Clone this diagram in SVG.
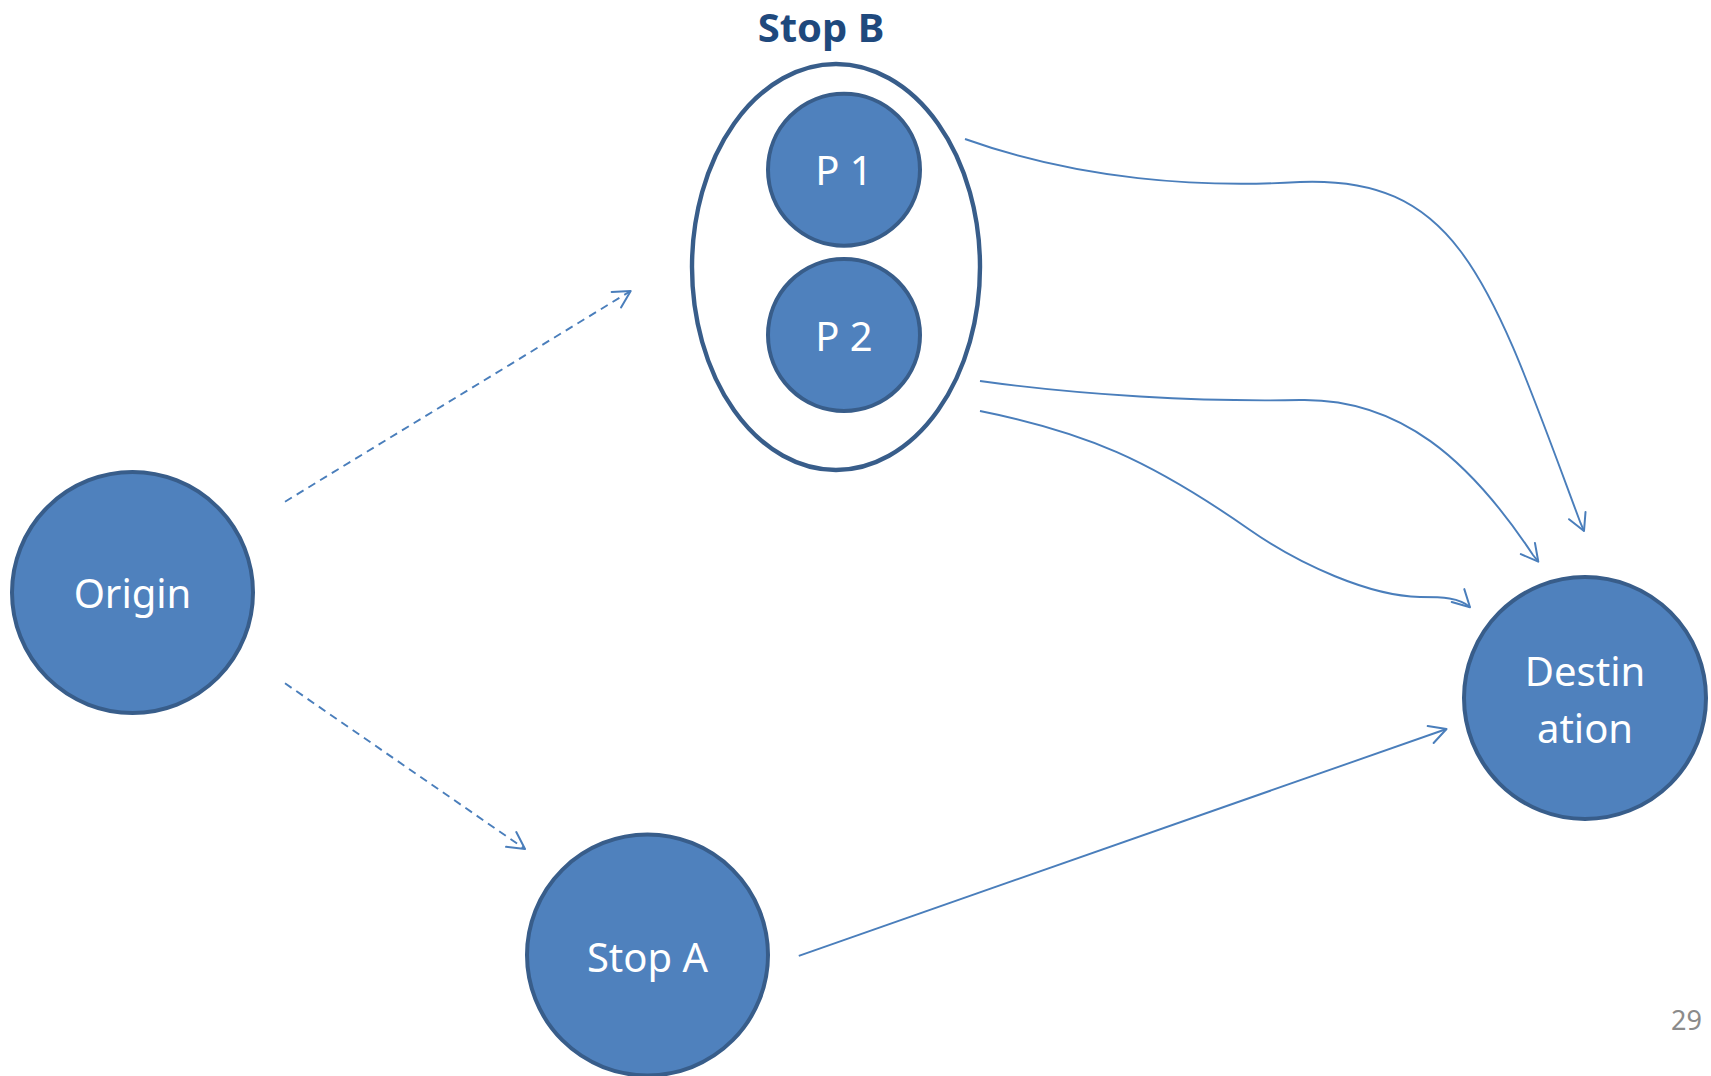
<svg xmlns="http://www.w3.org/2000/svg" width="1711" height="1076" viewBox="0 0 1711 1076">
  <style>
    .node { fill: #4F81BD; stroke: #385D8A; stroke-width: 4; }
    .group { fill: #FFFFFF; stroke: #385D8A; stroke-width: 4.4; }
    .label { font-family: "Noto Sans", "Open Sans", sans-serif; font-size: 40px; fill: #FFFFFF; text-anchor: middle; }
    .title { font-family: "Noto Sans", "Open Sans", sans-serif; font-size: 40px; font-weight: bold; fill: #1F497D; text-anchor: middle; }
    .pageno { font-family: "Noto Sans", "Open Sans", sans-serif; font-size: 27px; fill: #8B8B8B; text-anchor: end; }
    .link { fill: none; stroke: #4A7EBB; stroke-width: 1.9; marker-end: url(#arrow); }
    .dashed { stroke-dasharray: 8 5.7; }
    .head { fill: none; stroke: #4A7EBB; stroke-width: 2; stroke-linejoin: round; stroke-linecap: round; }
  </style>
  <defs>
    <!-- open "V" arrowhead used on every connector -->
    <marker id="arrow" markerUnits="userSpaceOnUse" viewBox="-22 -12 24 24" markerWidth="24" markerHeight="24" refX="0" refY="0" orient="auto" overflow="visible">
      <path class="head" d="M-16.8,-9 L0,0 L-16.8,9"/>
    </marker>
  </defs>

  <rect width="1711" height="1076" fill="#FFFFFF"/>

  <!-- connectors -->
  <g id="connectors">
    <path id="origin-stopb" class="link dashed" d="M285,501.7 L630.7,291"/>
    <path id="origin-stopa" class="link dashed" d="M285,683.3 L525,849"/>
    <path id="stopa-destination" class="link" d="M798.8,955.9 L1446.5,729"/>
    <path id="p1-destination" class="link" d="M965,139 C1080,180 1200,188 1300,182 C1460,176 1490,280 1580.5,523 L1584,531"/>
    <path id="p2-destination" class="link" d="M980,381 C1080,395 1200,402 1300,400 C1400,398 1470,460 1533,555 L1538.3,561.7"/>
    <path id="stopb-destination" class="link" d="M980,411 C1085,432 1150,460 1250,530 C1300,565 1370,596 1420,597 C1442,597 1460,597.5 1470,607.3"/>
  </g>

  <!-- Stop B: group ellipse holding P 1 and P 2 -->
  <g id="stop-b">
    <text class="title" x="821" y="42">Stop B</text>
    <ellipse class="group" cx="836" cy="267" rx="144" ry="203"/>
  </g>
  <g id="p1">
    <circle class="node" cx="844" cy="169.7" r="76"/>
    <text class="label" x="844" y="185">P 1</text>
  </g>
  <g id="p2">
    <circle class="node" cx="844" cy="335" r="76"/>
    <text class="label" x="844" y="351">P 2</text>
  </g>

  <g id="origin">
    <circle class="node" cx="132.5" cy="592.5" r="120.5"/>
    <text class="label" x="132.5" y="608">Origin</text>
  </g>

  <g id="stop-a">
    <circle class="node" cx="647.5" cy="955" r="120.5"/>
    <text class="label" x="647.5" y="972">Stop A</text>
  </g>

  <g id="destination">
    <circle class="node" cx="1585" cy="698" r="121"/>
    <text class="label" x="1585" y="686">Destin</text>
    <text class="label" x="1585" y="743">ation</text>
  </g>

  <text class="pageno" x="1702" y="1030">29</text>
</svg>
